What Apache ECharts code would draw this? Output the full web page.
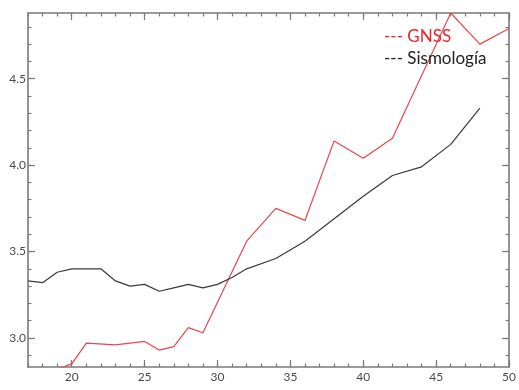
<!DOCTYPE html>
<html>
<head>
<meta charset="utf-8">
<script src="https://cdn.jsdelivr.net/npm/echarts@6/dist/echarts.min.js"></script>
<style>html,body{margin:0;padding:0;background:#fff;}#c{width:519px;height:390px;}</style>
</head>
<body>
<div id="c"></div>
<script>
// ---- data ----
const gnssX = [19, 20, 21, 23, 24, 25, 26, 27, 28, 29, 32, 34, 36, 38, 40, 42, 46, 48, 50];
const gnssY = [2.82, 2.85, 2.97, 2.96, 2.97, 2.98, 2.93, 2.95, 3.06, 3.03, 3.56, 3.75, 3.68, 4.14, 4.04, 4.155, 4.88, 4.70, 4.79];
const sisX = [17, 18, 19, 20, 21, 22, 23, 24, 25, 26, 27, 28, 29, 30, 31, 32, 34, 36, 38, 40, 42, 44, 46, 48];
const sisY = [3.33, 3.32, 3.38, 3.40, 3.40, 3.40, 3.33, 3.30, 3.31, 3.27, 3.29, 3.31, 3.29, 3.31, 3.35, 3.40, 3.46, 3.56, 3.69, 3.82, 3.94, 3.99, 4.12, 4.33];
const xMajor = [20, 25, 30, 35, 40, 45, 50];
const xMinor = [17,18,19,20,21,22,23,24,25,26,27,28,29,30,31,32,33,34,35,36,37,38,39,40,41,42,43,44,45,46,47,48,49,50];
const yMajor = [3.0, 3.5, 4.0, 4.5];
const yMinor = [2.9, 3.0, 3.1, 3.2, 3.3, 3.4, 3.5, 3.6, 3.7, 3.8, 3.9, 4.0, 4.1, 4.2, 4.3, 4.4, 4.5, 4.6, 4.7, 4.8];
const seriesNames = ['GNSS', 'Sismología'];
const X_MIN = 17, X_MAX = 50, Y_MIN = 2.832, Y_MAX = 4.88;

const AXIS_COLOR = '#7a7a7a';
const LABEL_COLOR = '#4a4a4a';
const FONT = 'Lato, "Liberation Sans", sans-serif';

function xAx(pos, ticks, len, showLine, showLabel) {
  return {
    type: 'value', position: pos, min: X_MIN, max: X_MAX,
    axisLine: { show: showLine, lineStyle: { color: AXIS_COLOR, width: 1.6 } },
    axisTick: { show: true, inside: true, length: len, customValues: ticks, lineStyle: { color: AXIS_COLOR, width: 1.2 } },
    axisLabel: { show: showLabel, customValues: ticks, color: LABEL_COLOR, fontSize: 12, fontFamily: FONT, margin: 4 },
    splitLine: { show: false }
  };
}
function yAx(pos, ticks, len, showLine, showLabel) {
  return {
    type: 'value', position: pos, min: Y_MIN, max: Y_MAX,
    axisLine: { show: showLine, lineStyle: { color: AXIS_COLOR, width: 1.6 } },
    axisTick: { show: true, inside: true, length: len, customValues: ticks, lineStyle: { color: AXIS_COLOR, width: 1.2 } },
    axisLabel: { show: showLabel, customValues: ticks, color: LABEL_COLOR, fontSize: 12, fontFamily: FONT, margin: 2,
      formatter: v => Number(v).toFixed(1) },
    splitLine: { show: false }
  };
}

const chart = echarts.init(document.getElementById('c'), null, { renderer: 'canvas' });
chart.setOption({
  backgroundColor: '#fff',
  animation: false,
  grid: { left: 28, top: 13, right: 5, bottom: 23, containLabel: false },
  legend: {
    orient: 'vertical', left: 379, top: 28, itemGap: 5, padding: 0,
    icon: 'none', itemWidth: 0, itemHeight: 0,
    formatter: name => '--- ' + name,
    textStyle: { fontSize: 17, fontFamily: FONT },
    data: [
      { name: seriesNames[0], textStyle: { color: '#e8252d' } },
      { name: seriesNames[1], textStyle: { color: '#222' } }
    ]
  },
  xAxis: [
    xAx('bottom', xMajor, 7, true, true),
    xAx('bottom', xMinor, 3.5, false, false),
    xAx('top', xMajor, 7, true, false),
    xAx('top', xMinor, 3.5, false, false)
  ],
  yAxis: [
    yAx('left', yMajor, 7, true, true),
    yAx('left', yMinor, 3.5, false, false),
    yAx('right', yMajor, 7, true, false),
    yAx('right', yMinor, 3.5, false, false)
  ],
  series: [
    { name: seriesNames[0], type: 'line', xAxisIndex: 0, yAxisIndex: 0, symbol: 'none', clip: true,
      lineStyle: { color: '#e8464a', width: 1.2 }, itemStyle: { color: '#e8464a' },
      data: gnssX.map((x, i) => [x, gnssY[i]]) },
    { name: seriesNames[1], type: 'line', xAxisIndex: 0, yAxisIndex: 0, symbol: 'none', clip: true,
      lineStyle: { color: '#3a3a3a', width: 1.2 }, itemStyle: { color: '#3a3a3a' },
      data: sisX.map((x, i) => [x, sisY[i]]) }
  ]
});
</script>
</body>
</html>
